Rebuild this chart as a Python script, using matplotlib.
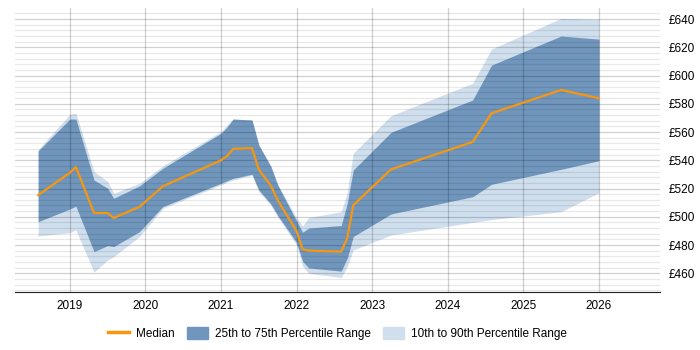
import matplotlib
matplotlib.use("Agg")
import matplotlib.pyplot as plt
from matplotlib.lines import Line2D
from matplotlib.patches import Patch
from matplotlib.ticker import MultipleLocator, FuncFormatter

#Data (decimal years, daily rate in GBP)
years = [2018.58, 2019.0, 2019.08, 2019.32, 2019.5, 2019.58, 2019.92, 2020.23,
         2021.0, 2021.08, 2021.16, 2021.41, 2021.5, 2021.66, 2021.75, 2022.0,
         2022.08, 2022.16, 2022.59, 2022.67, 2022.75, 2023.25, 2024.33, 2024.58,
         2025.5, 2026.0]
median = [515.3, 531.2, 535.2, 502.7, 502.7, 499.2, 507.0, 521.6,
          540.0, 543.0, 548.1, 548.6, 533.5, 521.9, 511.7, 489.8,
          477.0, 476.0, 475.3, 484.8, 508.2, 533.6, 553.0, 573.3,
          589.8, 583.9]
p75 = [546.6, 569.2, 569.2, 526.0, 520.2, 513.1, 521.8, 534.3,
       559.1, 563.5, 569.2, 568.5, 550.8, 535.5, 522.5, 497.0,
       489.0, 492.0, 493.8, 509.5, 533.1, 559.8, 582.7, 607.4,
       628.0, 625.8]
p25 = [496.5, 505.5, 507.5, 475.3, 479.6, 478.9, 489.4, 507.2,
       523.7, 525.5, 527.2, 530.1, 519.0, 509.1, 501.0, 481.8,
       468.5, 463.8, 461.5, 470.6, 486.0, 502.0, 514.2, 523.0,
       533.6, 539.7]
p90 = [547.5, 572.6, 573.3, 532.0, 525.0, 516.6, 523.7, 536.0,
       560.3, 565.0, 569.2, 568.5, 550.8, 536.0, 523.0, 499.0,
       493.5, 499.5, 503.6, 517.0, 545.0, 571.6, 594.5, 618.8,
       640.5, 639.8]
p10 = [486.4, 488.8, 490.7, 460.8, 469.4, 471.8, 485.9, 506.0,
       522.6, 524.5, 526.0, 529.5, 517.8, 508.0, 500.0, 480.0,
       465.0, 460.0, 457.0, 464.7, 476.5, 487.1, 496.0, 498.0,
       503.6, 517.0]
year_ticks = [2019, 2020, 2021, 2022, 2023, 2024, 2025, 2026]

orange = '#f7960f'
dark = '#7096bd'
light = '#d0dfee'

plt.rcParams['font.family'] = ['Liberation Sans', 'DejaVu Sans']
plt.rcParams['font.size'] = 8.5

fig = plt.figure(figsize=(7, 3.5), dpi=100)
ax = fig.add_axes([0.021, 0.166, 0.922, 0.811])

ax.fill_between(years, p10, p90, color=light, lw=0, zorder=1)
ax.fill_between(years, p25, p75, color=dark, lw=0, zorder=1.5)
ax.plot(years, median, color=orange, lw=1.6, zorder=3)

#Axes, grid
ax.set_xlim(2018.27, 2026.81)
ax.set_ylim(446.8, 647.8)
ax.set_xticks(year_ticks)
ax.set_xticklabels([str(y) for y in year_ticks])
ax.yaxis.set_major_locator(MultipleLocator(20))
ax.yaxis.set_minor_locator(MultipleLocator(4))
ax.yaxis.set_major_formatter(FuncFormatter(lambda v, p: f"£{v:.0f}"))
ax.yaxis.tick_right()
ax.tick_params(axis='both', which='both', length=0)
ax.tick_params(axis='y', pad=6)
ax.tick_params(axis='x', pad=6)
ax.set_axisbelow(False)
ax.grid(True, which='major', axis='both', color='#000000', alpha=0.18, lw=0.9, zorder=2)
ax.grid(True, which='minor', axis='y', color='#000000', alpha=0.09, lw=0.9, zorder=2)
for side in ['left', 'top', 'right']:
    ax.spines[side].set_visible(False)
ax.spines['bottom'].set_color('#222222')

#Legend
handles = [Line2D([0], [0], color=orange, lw=2.5),
           Patch(color=dark), Patch(color=light)]
labels = ['Median', '25th to 75th Percentile Range', '10th to 90th Percentile Range']
fig.legend(handles, labels, loc='center', bbox_to_anchor=(0.482, 0.046), ncol=3,
           frameon=False, handlelength=1.8, handleheight=1.2, handletextpad=0.6,
           columnspacing=1.0)

fig.savefig('out.png', dpi=100)
